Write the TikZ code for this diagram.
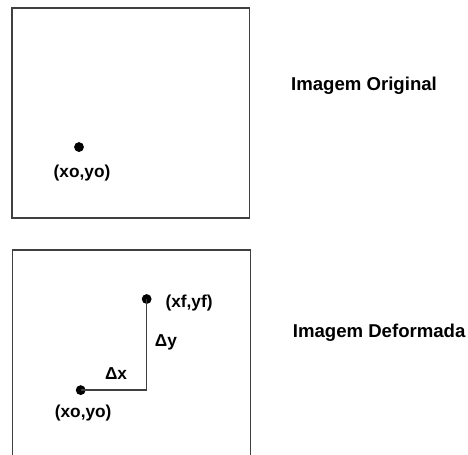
\documentclass[tikz,border=0pt]{standalone}
\usepackage{fontspec}
\setmainfont{Liberation Sans}
\usepackage{tikz}
\usetikzlibrary{positioning, calc}
\definecolor{myframe}{HTML}{404040}

\begin{document}
\begin{tikzpicture}[
  lbl/.style={inner sep=0pt, font=\fontsize{13}{15}\selectfont\bfseries},
  ttl/.style={inner sep=0pt, font=\fontsize{14}{16}\selectfont\bfseries},
  dot/.style={circle, fill=black, inner sep=0pt, minimum size=0.26cm},
  frame/.style={draw=myframe, line width=1pt},
  lnk/.style={draw=myframe, line width=1pt}
]
\useasboundingbox (0,0) rectangle (12.38,12.01);
% imagem original
\draw[frame] (0.32,6.24) rectangle (6.60,11.80);
\node[dot] (O1) at (2.09,8.12) {};
\node[lbl] (O1l) at (2.17,7.44) {(xo,yo)};
\node[ttl] (T1) at (9.63,9.74) {Imagem Original};
% imagem deformada
\draw[frame] (0.33,-0.1) -- (0.33,5.40) -- (6.62,5.40) -- (6.62,-0.1);
\node[dot] (O2) at (2.135,1.69) {};
\node[dot] (F2) at (3.88,4.10) {};
\coordinate (C2) at (O2 -| F2);
\draw[lnk] (O2.center) -- (C2) -- (F2.center);
\node[lbl] (O2l) at (2.20,1.08) {(xo,yo)};
\node[lbl] (F2l) at (5.00,4.00) {(xf,yf)};
\node[lbl] (DX) at (3.07,2.12) {Δx};
\node[lbl] (DY) at (4.39,2.96) {Δy};
\node[ttl] (T2) at (10.03,3.20) {Imagem Deformada};
\end{tikzpicture}
\end{document}
